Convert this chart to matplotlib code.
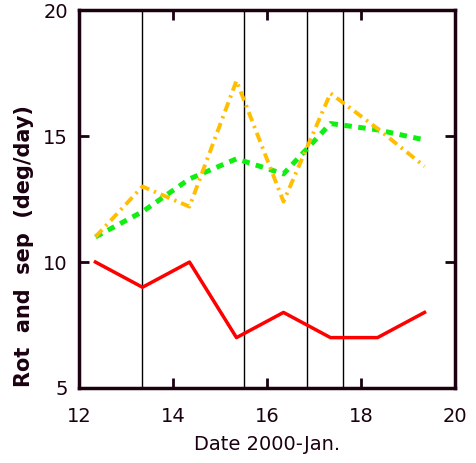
import numpy as np
from matplotlib import pyplot as plt

# dates (day of 2000-Jan.)
dates = [12.35, 13.35, 14.35, 15.35, 16.35, 17.35, 18.35, 19.35]
rot = [10.0, 9.0, 10.0, 7.0, 8.0, 7.0, 7.0, 8.0]
sep_green = [11.0, 12.0, 13.3, 14.1, 13.5, 15.5, 15.25, 14.85]
sep_orange = [11.0, 13.0, 12.2, 17.2, 12.4, 16.7, 15.3, 13.8]
events = [13.34, 15.51, 16.85, 17.62]

xticks = [12, 14, 16, 18, 20]
yticks = [5, 10, 15, 20]

ink = '#1a0010'

fig = plt.figure(figsize=(4.76, 4.63), dpi=100)
ax = fig.add_axes([0.166, 0.162, 0.79, 0.816])

for ev in events:
    ax.axvline(ev, color='black', lw=1.0, zorder=1)

ax.plot(dates, rot, '-', color='#ff0000', lw=2.5, zorder=3)
ax.plot(dates, sep_green, linestyle=(0, (1.5, 1.3)), color='#11ee11', lw=3.6, zorder=3)
ax.plot(dates, sep_orange, linestyle=(0, (2.5, 1.3, 0.6, 1.3)), color='#ffbf00', lw=2.8, zorder=3)

ax.set_xlim(12, 20)
ax.set_ylim(5, 20)
ax.set_xticks(xticks)
ax.set_yticks(yticks)
ax.tick_params(direction='in', length=7, width=2, top=True, right=True,
               colors=ink, labelsize=14)
ax.tick_params(axis='x', pad=14)
ax.tick_params(axis='y', pad=8)
for s in ax.spines.values():
    s.set_linewidth(2.5)
    s.set_color(ink)

ax.set_xlabel('Date 2000-Jan.', fontsize=14, color=ink, labelpad=6)
ax.set_ylabel('Rot  and  sep  (deg/day)', fontsize=15, color=ink,
              fontweight='bold')
ax.yaxis.set_label_coords(-0.12, 0.375)

plt.savefig('out.png', dpi=100)
